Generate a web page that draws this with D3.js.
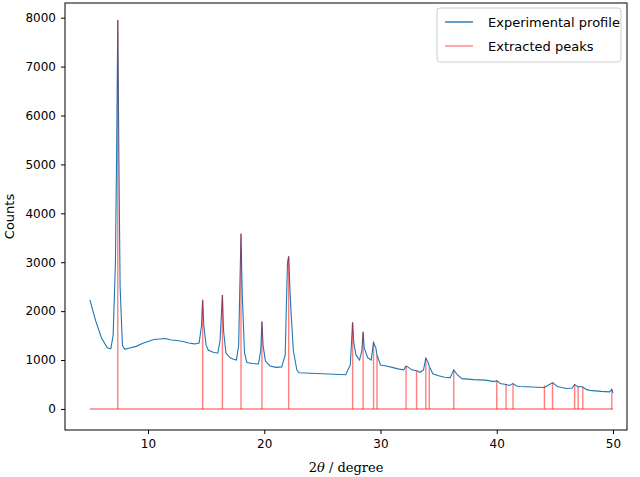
<!DOCTYPE html>
<html><head><meta charset="utf-8">
<script src="https://cdn.jsdelivr.net/npm/d3@7"></script>
<style>body{margin:0;background:#fff}</style>
</head><body>
<svg id="c" width="640" height="477"></svg>
<script>
// experimental profile, [2theta, counts]
const profileX = [5,5.5,6,6.5,6.8,7.0,7.2,7.3,7.4,7.5,7.6,7.8,8,8.5,9,9.5,10,10.5,11,11.5,12,12.5,13,13.5,14,14.4,14.6,14.7,14.8,15.0,15.2,15.6,16,16.2,16.4,16.5,16.7,17,17.3,17.6,17.8,17.9,18.0,18.1,18.3,18.5,19,19.5,19.7,19.8,19.9,20.1,20.5,21,21.5,21.8,22.0,22.1,22.2,22.3,22.5,22.8,23,24,25,26,27,27.4,27.6,27.7,27.9,28.2,28.4,28.5,28.6,28.9,29.2,29.4,29.6,29.7,30.0,30.5,31,31.5,32,32.2,32.4,32.7,33.1,33.4,33.7,33.9,34.1,34.2,34.5,35,35.5,36,36.3,36.6,37,38,39,39.8,40.0,40.3,40.8,41.1,41.4,41.7,42,43,44,44.1,44.4,44.8,45.2,46,46.5,46.7,47.0,47.2,47.4,47.7,48,49,49.7,49.9,50];
const profileY = [2230,1800,1450,1250,1230,1500,3000,5200,7950,5000,2500,1300,1220,1250,1280,1340,1380,1420,1430,1440,1410,1400,1380,1350,1330,1350,1700,2230,1700,1300,1200,1160,1140,1400,2330,1600,1150,1060,1020,1000,1300,2500,3580,2400,1150,950,930,920,1200,1790,1300,980,880,850,860,1100,3000,3120,2500,2000,1200,800,740,730,720,710,700,900,1770,1350,1100,1000,1200,1580,1250,1050,1000,1360,1250,1100,900,880,850,820,800,880,850,800,780,750,800,1040,950,870,720,680,650,640,800,700,620,600,590,560,580,520,500,480,520,470,460,450,440,440,480,540,460,420,430,500,450,460,450,400,380,360,350,400,330];

// extracted peak positions and heights
const peakX = [7.4,14.7,16.4,18.0,19.8,22.1,27.6,28.5,29.4,29.7,32.2,33.1,33.9,34.2,36.3,40.0,40.8,41.4,44.1,44.8,46.7,47.0,47.4,49.9];
const peakY = [7950,2230,2330,3580,1790,3120,1770,1580,1360,1100,880,780,1040,850,800,580,500,520,480,540,500,450,450,400];

const xTicks = [10,20,30,40,50];
const yTicks = [0,1000,2000,3000,4000,5000,6000,7000,8000];

const svg = d3.select('#c');
const L = 65, R = 627, T = 3, B = 430;
const x = d3.scaleLinear().domain([10, 50]).range([148, 613]);
const y = d3.scaleLinear().domain([-430, 8300]).range([B, T]);

const g = svg.append('g');

// baseline of the extracted peaks
g.append('line')
  .attr('x1', x(5)).attr('x2', x(50)).attr('y1', y(0)).attr('y2', y(0))
  .attr('stroke', 'rgba(255,0,0,0.5)').attr('stroke-width', 1.4);

const line = d3.line().x(d => x(d[0])).y(d => y(d[1]));
g.append('path')
  .datum(profileX.map((v, i) => [v, profileY[i]]))
  .attr('d', line).attr('fill', 'none')
  .attr('stroke', '#1f77b4').attr('stroke-width', 1.1);

g.selectAll('line.pk').data(peakX).join('line').attr('class', 'pk')
  .attr('x1', d => x(d)).attr('x2', d => x(d))
  .attr('y1', y(0)).attr('y2', (d, i) => y(peakY[i]))
  .attr('stroke', 'rgba(255,0,0,0.5)').attr('stroke-width', 1.4);

// axes
const ax = svg.append('g').attr('transform', `translate(0,${B})`)
  .call(d3.axisBottom(x).tickValues(xTicks).tickFormat(d3.format('d')).tickSize(4).tickPadding(5));
const ay = svg.append('g').attr('transform', `translate(${L},0)`)
  .call(d3.axisLeft(y).tickValues(yTicks).tickFormat(d3.format('d')).tickSize(4).tickPadding(5));
[ax, ay].forEach(a => {
  a.selectAll('text').attr('font-family', 'DejaVu Sans').attr('font-size', 12).attr('fill', '#000');
  a.select('.domain').remove();
});
svg.append('rect').attr('x', L).attr('y', T).attr('width', R - L).attr('height', B - T)
  .attr('fill', 'none').attr('stroke', '#000').attr('stroke-width', 1);

svg.append('text').attr('x', (L + R) / 2).attr('y', 472).attr('text-anchor', 'middle')
  .attr('font-family', 'DejaVu Serif').attr('font-size', 13)
  .html('2<tspan font-style="italic">θ</tspan> / degree');
svg.append('text').attr('transform', `translate(14,${(T + B) / 2}) rotate(-90)`)
  .attr('text-anchor', 'middle').attr('font-family', 'DejaVu Sans').attr('font-size', 13)
  .text('Counts');

// legend
const lg = svg.append('g');
lg.append('rect').attr('x', 437).attr('y', 8).attr('width', 184).attr('height', 54).attr('rx', 3)
  .attr('fill', '#fff').attr('stroke', '#ccc');
const items = [['Experimental profile', '#1f77b4'], ['Extracted peaks', 'rgba(255,0,0,0.5)']];
items.forEach((it, i) => {
  const yy = 22 + i * 24;
  lg.append('line').attr('x1', 445).attr('x2', 473).attr('y1', yy).attr('y2', yy)
    .attr('stroke', it[1]).attr('stroke-width', 1.4);
  lg.append('text').attr('x', 488).attr('y', yy + 5).attr('font-family', 'DejaVu Sans')
    .attr('font-size', 13).text(it[0]);
});
</script>
</body></html>
